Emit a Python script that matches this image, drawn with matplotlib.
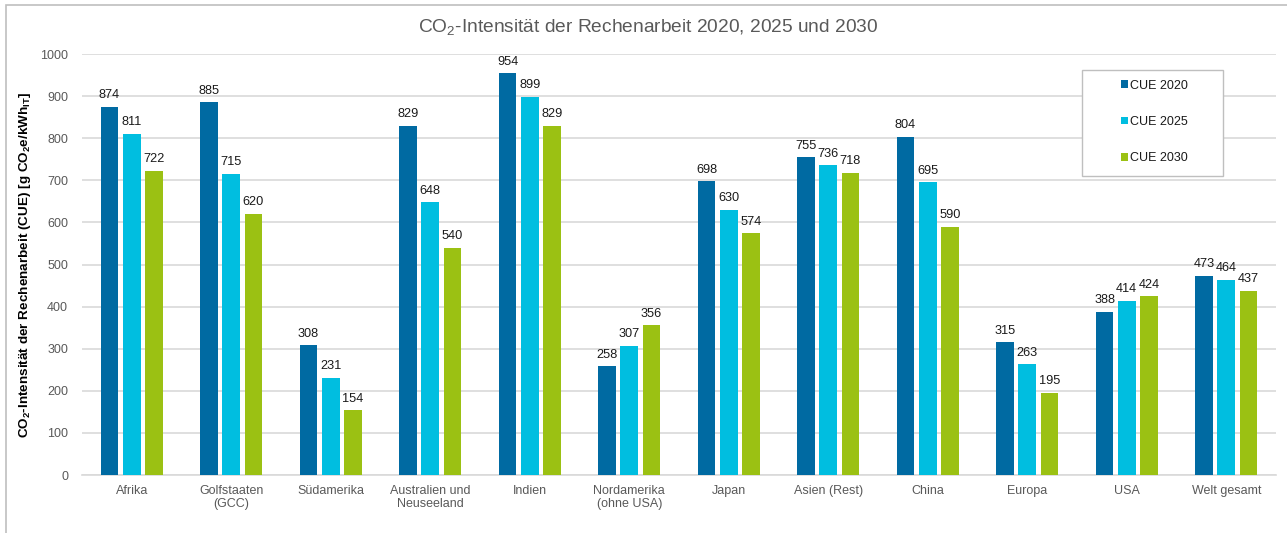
import matplotlib
matplotlib.use("Agg")
import matplotlib.pyplot as plt
import numpy as np
from matplotlib.patches import Rectangle

categories = ["Afrika", "Golfstaaten\n(GCC)", "Südamerika", "Australien und\nNeuseeland",
              "Indien", "Nordamerika\n(ohne USA)", "Japan", "Asien (Rest)", "China",
              "Europa", "USA", "Welt gesamt"]
cue_2020 = [874, 885, 308, 829, 954, 258, 698, 755, 804, 315, 388, 473]
cue_2025 = [811, 715, 231, 648, 899, 307, 630, 736, 695, 263, 414, 464]
cue_2030 = [722, 620, 154, 540, 829, 356, 574, 718, 590, 195, 424, 437]
series_labels = ["CUE 2020", "CUE 2025", "CUE 2030"]
colors = ["#006AA2", "#00BEE0", "#9BC113"]
yticks = [0, 100, 200, 300, 400, 500, 600, 700, 800, 900, 1000]

plt.rcParams['font.family'] = ['Liberation Sans', 'DejaVu Sans']
plt.rcParams['mathtext.fontset'] = 'custom'
plt.rcParams['mathtext.rm'] = 'Liberation Sans'
plt.rcParams['mathtext.bf'] = 'Liberation Sans:bold'

W, H = 1287, 533
fig = plt.figure(figsize=(W / 100, H / 100), dpi=100)
fig.patches.append(Rectangle((6 / W, -0.2), 1.2, 1.2 - 5 / H, transform=fig.transFigure,
                             fill=False, edgecolor="#BFBFBF", linewidth=1.2))

ax = fig.add_axes([82 / W, 1 - 475 / H, (1276 - 82) / W, (475 - 54) / H])
x = np.arange(len(categories))
width = 0.178
step = 0.223
for i, (vals, lab, col) in enumerate(zip([cue_2020, cue_2025, cue_2030], series_labels, colors)):
    bars = ax.bar(x + (i - 1) * step, vals, width, color=col, label=lab, zorder=3)
    ax.bar_label(bars, padding=4, fontsize=9.2, color="#1A1A1A")

ax.set_xlim(-0.5, len(categories) - 0.5)
ax.set_ylim(0, 1000)
ax.set_yticks(yticks)
ax.set_xticks(x)
ax.set_xticklabels(categories, fontsize=9, color="#595959", linespacing=1.15)
ax.tick_params(axis='y', labelsize=9, labelcolor="#595959", length=0, pad=10)
ax.tick_params(axis='x', length=0, pad=7)
ax.grid(axis='y', color="#D9D9D9", linewidth=1.2, zorder=0)
for s in ["top", "right", "left"]:
    ax.spines[s].set_visible(False)
ax.spines["bottom"].set_color("#D9D9D9")
ax.spines["bottom"].set_linewidth(1.2)

ax.set_ylabel(r"CO$_\mathbf{2}$-Intensität der Rechenarbeit (CUE) [g CO$_\mathbf{2}$e/kWh$_\mathbf{IT}$]",
              fontsize=9.7, fontweight='bold', color="#000000")
ax.yaxis.set_label_coords(-(82 - 33) / (1276 - 82), 0.5)

fig.text(648 / W, 1 - 28 / H, r"CO$_2$-Intensität der Rechenarbeit 2020, 2025 und 2030",
         ha='center', va='center', fontsize=13.8, color="#595959")

# legend frame and legend
lx0, lx1, ly0, ly1 = 1082, 1223, 70, 176
ax.add_patch(Rectangle(((lx0 - 82) / (1276 - 82), (475 - ly1) / (475 - 54)),
                       (lx1 - lx0) / (1276 - 82), (ly1 - ly0) / (475 - 54),
                       transform=ax.transAxes, facecolor="white", edgecolor="#BFBFBF",
                       linewidth=1.0, zorder=5))
leg = ax.legend(loc='center', bbox_to_anchor=(((lx0 + lx1) / 2 + 2 - 82) / (1276 - 82),
                                             (475 - (ly0 + ly1) / 2 + 1) / (475 - 54)),
                frameon=False, fontsize=9, handlelength=0.55, handleheight=0.55,
                handletextpad=0.15, labelspacing=1.95)
leg.set_zorder(6)
for t in leg.get_texts():
    t.set_color("#1A1A1A")

fig.savefig("out.png", dpi=100, facecolor="white")
